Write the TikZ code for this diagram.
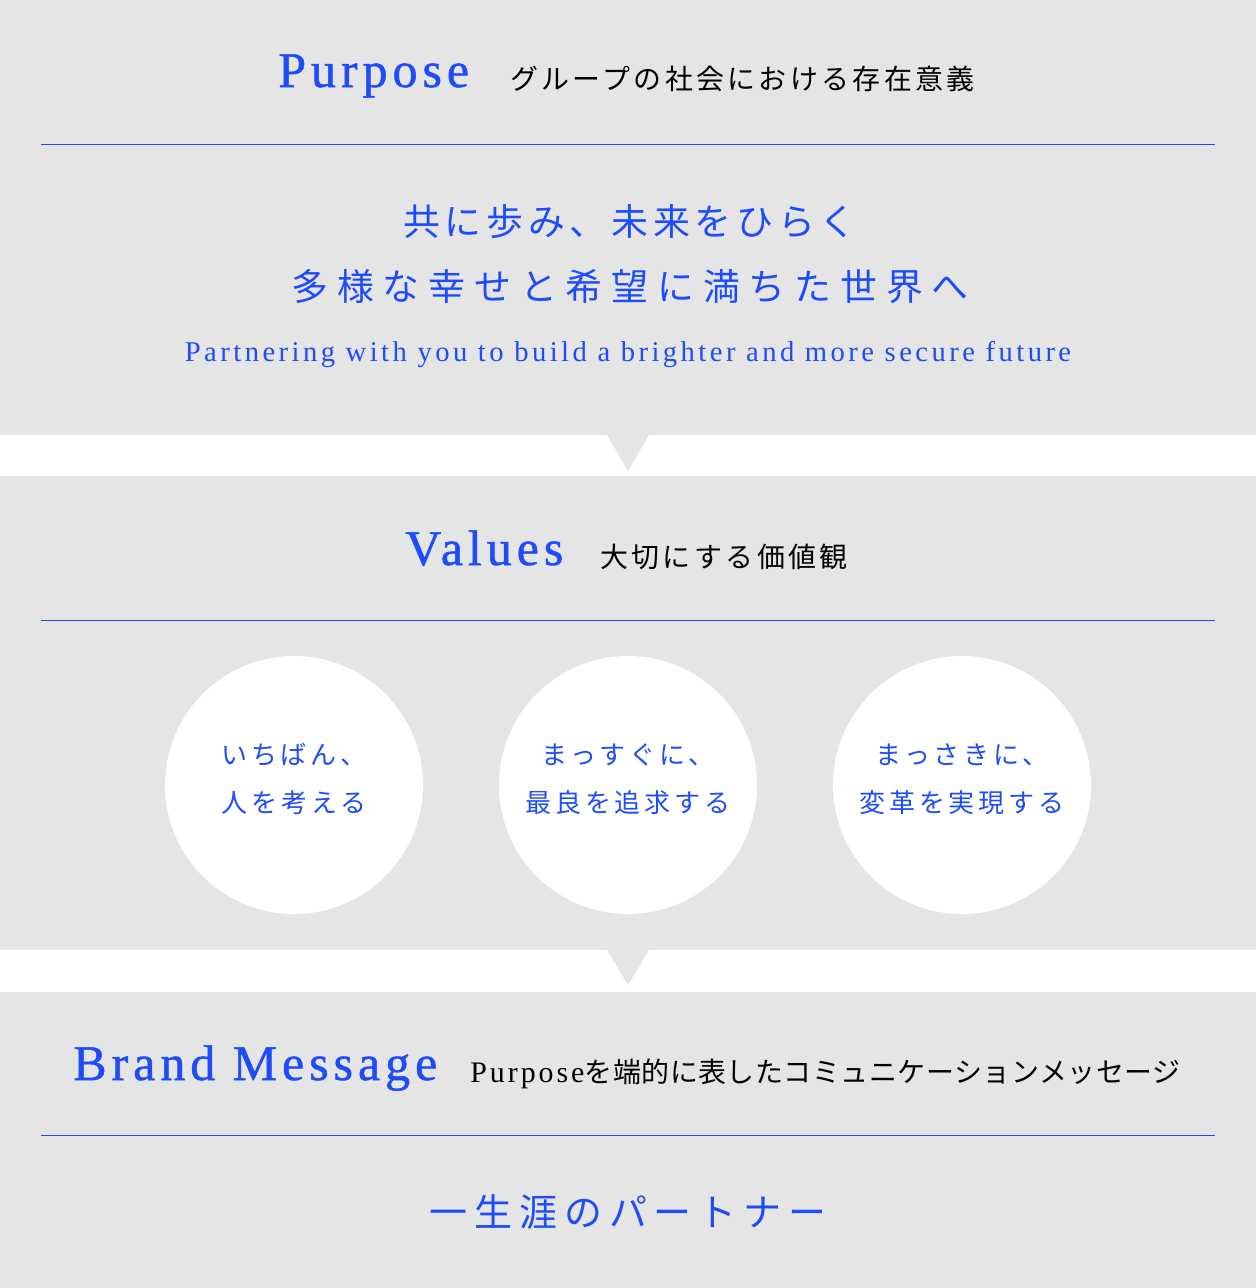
\documentclass[tikz,border=0pt]{standalone}
\usepackage{fontspec}
\setmainfont{Liberation Serif}
\newfontfamily\jpfont{Noto Sans CJK JP}

\definecolor{brandblue}{RGB}{30,76,250}
\definecolor{panelgray}{RGB}{229,229,229}

\newcommand{\headfont}{\fontsize{28.4}{32}\selectfont\addfontfeature{LetterSpace=10,FakeBold=1}}
\newcommand{\subjpfont}{\jpfont\fontsize{15.9}{20}\selectfont\addfontfeature{LetterSpace=12}}
\newcommand{\mottofont}{\jpfont\fontsize{21}{26}\selectfont}
\newcommand{\valuefont}{\jpfont\fontsize{14.8}{27.3}\selectfont\addfontfeature{LetterSpace=15}}

\tikzset{
  headword/.style={font=\headfont, text=brandblue, inner sep=0pt, anchor=base west},
  subjp/.style={font=\subjpfont, text=black, inner sep=0pt, anchor=base west},
  rule/.style={draw=brandblue, line width=0.02cm},
  valuedisk/.style={circle, fill=white, minimum size=5.16cm, inner sep=0pt},
  valuetext/.style={font=\valuefont, text=brandblue, align=center, inner sep=0pt}
}

\begin{document}
\begin{tikzpicture}[x=0.02cm, y=-0.02cm]
        \useasboundingbox (0,0) rectangle (1256,1288);
        \fill[white] (0,0) rectangle (1256,1288);
        % Purpose
        \fill[panelgray] (0,0) rectangle (1256,435);
        \fill[panelgray] (607,435) -- (649,435) -- (628,471) -- cycle;
        \node[headword] (purpose) at (278,87) {Purpose};
        \node[subjp] (purpose_sub) at (510,89) {グループの社会における存在意義};
        \draw[rule] (41,144) -- (1215,144);
        \node[font={\mottofont\addfontfeature{LetterSpace=13}}, text=brandblue] (motto_a) at (630,222) {共に歩み、未来をひらく};
        \node[font={\mottofont\addfontfeature{LetterSpace=24}}, text=brandblue] (motto_b) at (630,287) {多様な幸せと希望に満ちた世界へ};
        \node[font={\fontsize{16.3}{20}\selectfont\addfontfeature{LetterSpace=12}}, text=brandblue, anchor=base, inner sep=0pt] (motto_en) at (628,361) {Partnering with you to build a brighter and more secure future};
        % Values
        \fill[panelgray] (0,476) rectangle (1256,950);
        \fill[panelgray] (607,950) -- (649,950) -- (628,985) -- cycle;
        \node[headword] (values) at (405,565) {Values};
        \node[subjp] (values_sub) at (600,567) {大切にする価値観};
        \draw[rule] (41,620) -- (1215,620);
        \node[valuedisk] (v_first) at (294,785) {};
        \node[valuedisk] (v_straight) at (628,785) {};
        \node[valuedisk] (v_change) at (962,785) {};
        \node[valuetext] (v_first_txt) at (294,779) {いちばん、\\人を考える};
        \node[valuetext] (v_straight_txt) at (628,779) {まっすぐに、\\最良を追求する};
        \node[valuetext] (v_change_txt) at (962,779) {まっさきに、\\変革を実現する};
        % Brand Message
        \fill[panelgray] (0,992) rectangle (1256,1288);
        \node[headword] (brand) at (73,1080) {Brand Message};
        \node[subjp, font={\subjpfont\addfontfeature{LetterSpace=2}}] (brand_sub) at (470,1082) {{\rmfamily\fontsize{17}{20}\selectfont\addfontfeature{LetterSpace=10}Purpose}を端的に表したコミュニケーションメッセージ};
        \draw[rule] (41,1135) -- (1215,1135);
        \node[font={\jpfont\fontsize{21.6}{26}\selectfont\addfontfeature{LetterSpace=18}}, text=brandblue] (partner) at (628,1212) {一生涯のパートナー};
    \end{tikzpicture}
\end{document}
